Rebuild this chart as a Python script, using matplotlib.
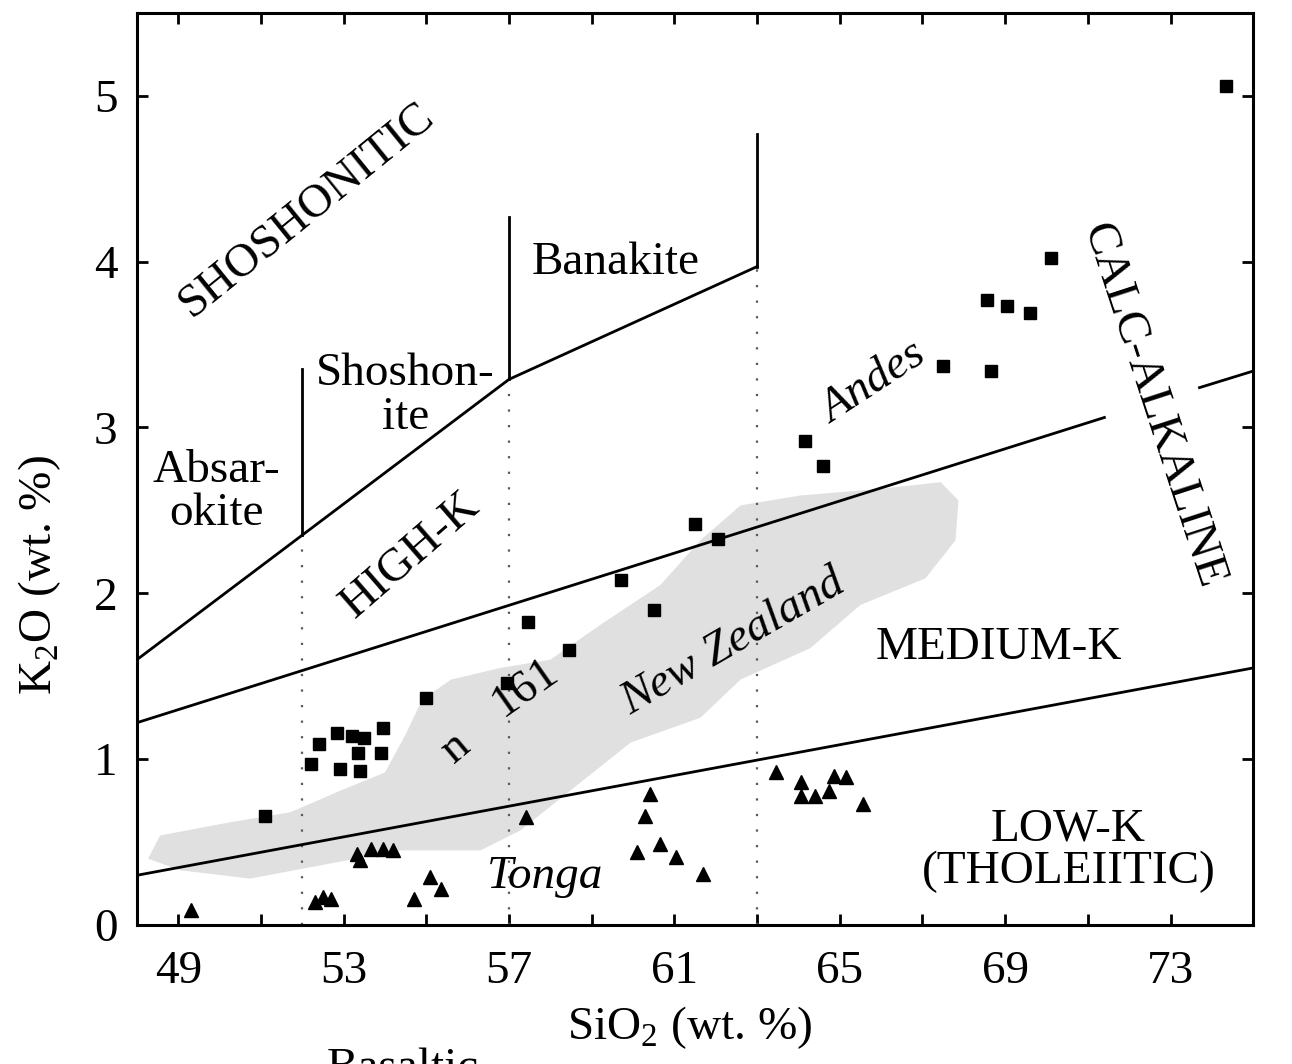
import numpy as np
import matplotlib.pyplot as plt

plt.rcParams['font.family'] = ['Liberation Serif', 'DejaVu Serif']
plt.rcParams['mathtext.fontset'] = 'custom'
plt.rcParams['mathtext.rm'] = 'Liberation Serif'

# Andes (squares)
andes_si = [51.1, 52.2, 52.4, 52.85, 53.2, 53.5, 53.95, 53.35, 53.9, 52.9, 53.4,
            55.0, 56.95, 57.45, 58.45, 59.7, 60.5, 61.5, 62.05, 64.15, 64.6,
            67.5, 68.65, 68.55, 69.05, 69.6, 70.1, 74.35]
andes_k = [0.66, 0.97, 1.09, 1.16, 1.14, 1.13, 1.19, 1.04, 1.04, 0.94, 0.93,
           1.37, 1.46, 1.83, 1.66, 2.08, 1.90, 2.42, 2.33, 2.92, 2.77,
           3.37, 3.34, 3.77, 3.73, 3.69, 4.02, 5.06]

# Tonga (triangles)
tonga_si = [49.3, 52.3, 52.5, 52.7, 54.7, 55.1, 55.35, 53.33, 53.65, 53.96, 54.2,
            53.4, 57.4, 60.4, 60.3, 60.1, 60.65, 61.05, 61.7, 63.45, 64.05,
            64.05, 64.4, 64.75, 64.85, 65.15, 65.55]
tonga_k = [0.09, 0.14, 0.17, 0.16, 0.16, 0.29, 0.22, 0.43, 0.46, 0.46, 0.45,
           0.39, 0.65, 0.79, 0.66, 0.44, 0.49, 0.41, 0.31, 0.92, 0.86,
           0.78, 0.78, 0.81, 0.90, 0.89, 0.73]

# New Zealand field outline
nz_si = [48.27, 48.56, 50.26, 51.71, 52.92, 54.0, 54.5, 54.9, 55.6, 56.79, 58.0,
         59.21, 60.66, 61.63, 62.6, 64.05, 65.99, 67.44, 67.87, 67.8, 67.07,
         65.5, 64.29, 62.6, 61.63, 59.94, 58.73, 57.27, 56.31, 54.37, 52.44,
         50.74, 49.05]
nz_k = [0.40, 0.54, 0.62, 0.68, 0.81, 0.92, 1.15, 1.36, 1.48, 1.55, 1.60,
        1.81, 2.05, 2.32, 2.53, 2.59, 2.63, 2.67, 2.56, 2.32, 2.09,
        1.93, 1.67, 1.48, 1.25, 1.10, 0.86, 0.57, 0.45, 0.45, 0.36,
        0.28, 0.33]

# boundary lines
low_med_si = [48, 75]
low_med_k = [0.30, 1.55]
med_high_si = [48, 71.4]
med_high_k = [1.22, 3.06]
med_high2_si = [73.7, 75]
med_high2_k = [3.24, 3.34]
high_sho_si = [48, 57, 63]
high_sho_k = [1.60, 3.29, 3.97]
vert_si = [52, 57, 63]
vert_base = [2.35, 3.29, 3.97]
vert_top = [3.35, 4.27, 4.77]

fig = plt.figure(figsize=(12.92, 10.64), dpi=100)
ax = fig.add_axes([0.106, 0.1306, 0.864, 0.8574])

ax.fill(nz_si, nz_k, color='#e0e0e0', lw=0, zorder=1)

for x, yb in zip(vert_si, vert_base):
    ax.plot([x, x], [0, yb], color='0.35', lw=1.6, ls=(0, (1, 6)), zorder=2)
for x, yb, yt in zip(vert_si, vert_base, vert_top):
    ax.plot([x, x], [yb, yt], color='k', lw=2, zorder=3)

ax.plot(low_med_si, low_med_k, color='k', lw=2, zorder=3)
ax.plot(med_high_si, med_high_k, color='k', lw=2, zorder=3)
ax.plot(med_high2_si, med_high2_k, color='k', lw=2, zorder=3)
ax.plot(high_sho_si, high_sho_k, color='k', lw=2, zorder=3)

ax.plot(andes_si, andes_k, 's', color='k', ms=8, zorder=4)
ax.plot(tonga_si, tonga_k, '^', color='k', ms=10, zorder=4)

fs = 34
ax.text(52.12, 4.31, 'SHOSHONITIC', rotation=39, ha='center', va='center', fontsize=fs)
ax.text(59.57, 3.99, 'Banakite', ha='center', va='center', fontsize=fs)
ax.text(54.49, 3.19, 'Shoshon-\nite', ha='center', va='center', fontsize=fs,
        linespacing=1.05)
ax.text(49.92, 2.61, 'Absar-\nokite', ha='center', va='center', fontsize=fs,
        linespacing=1.0)
ax.text(54.61, 2.23, 'HIGH-K', rotation=41, ha='center', va='center', fontsize=fs)
ax.text(65.82, 3.27, 'Andes', rotation=33, ha='center', va='center', fontsize=fs,
        style='italic')
ax.text(72.57, 3.13, 'CALC-ALKALINE', rotation=-72, ha='center', va='center',
        fontsize=fs)
ax.text(68.84, 1.67, 'MEDIUM-K', ha='center', va='center', fontsize=fs)
ax.text(70.53, 0.45, 'LOW-K\n(THOLEIITIC)', ha='center', va='center', fontsize=fs,
        linespacing=1.0)
ax.text(57.88, 0.29, 'Tonga', ha='center', va='center', fontsize=fs, style='italic')
ax.text(62.43, 1.70, 'New Zealand', rotation=30, ha='center', va='center',
        fontsize=fs, style='italic')
ax.text(57.4, 1.43, '161', rotation=35, ha='center', va='center', fontsize=fs)
ax.text(55.7, 1.07, 'n', rotation=40, ha='center', va='center', fontsize=fs)

ax.set_xlim(48, 75)
ax.set_ylim(0, 5.5)
xt = list(range(49, 75, 2))
ax.set_xticks(xt)
ax.set_xticklabels([str(v) if (v - 49) % 4 == 0 else '' for v in xt])
ax.set_yticks([0, 1, 2, 3, 4, 5])
ax.tick_params(direction='in', length=8, width=2, top=True, right=True,
               labelsize=fs)
ax.tick_params(axis='x', pad=18)
ax.tick_params(axis='y', pad=14)
for s in ax.spines.values():
    s.set_linewidth(2.2)

ax.set_xlabel('SiO$_2$ (wt. %)', fontsize=fs)
ax.xaxis.set_label_coords(0.4955, -0.087)
ax.set_ylabel('K$_2$O (wt. %)', fontsize=fs)
ax.yaxis.set_label_coords(-0.066, 0.384)

fig.text(403 / 1292, 1 - 1048 / 1064, 'Basaltic', ha='center', va='top',
         fontsize=fs)

fig.savefig('out.png', dpi=100)
